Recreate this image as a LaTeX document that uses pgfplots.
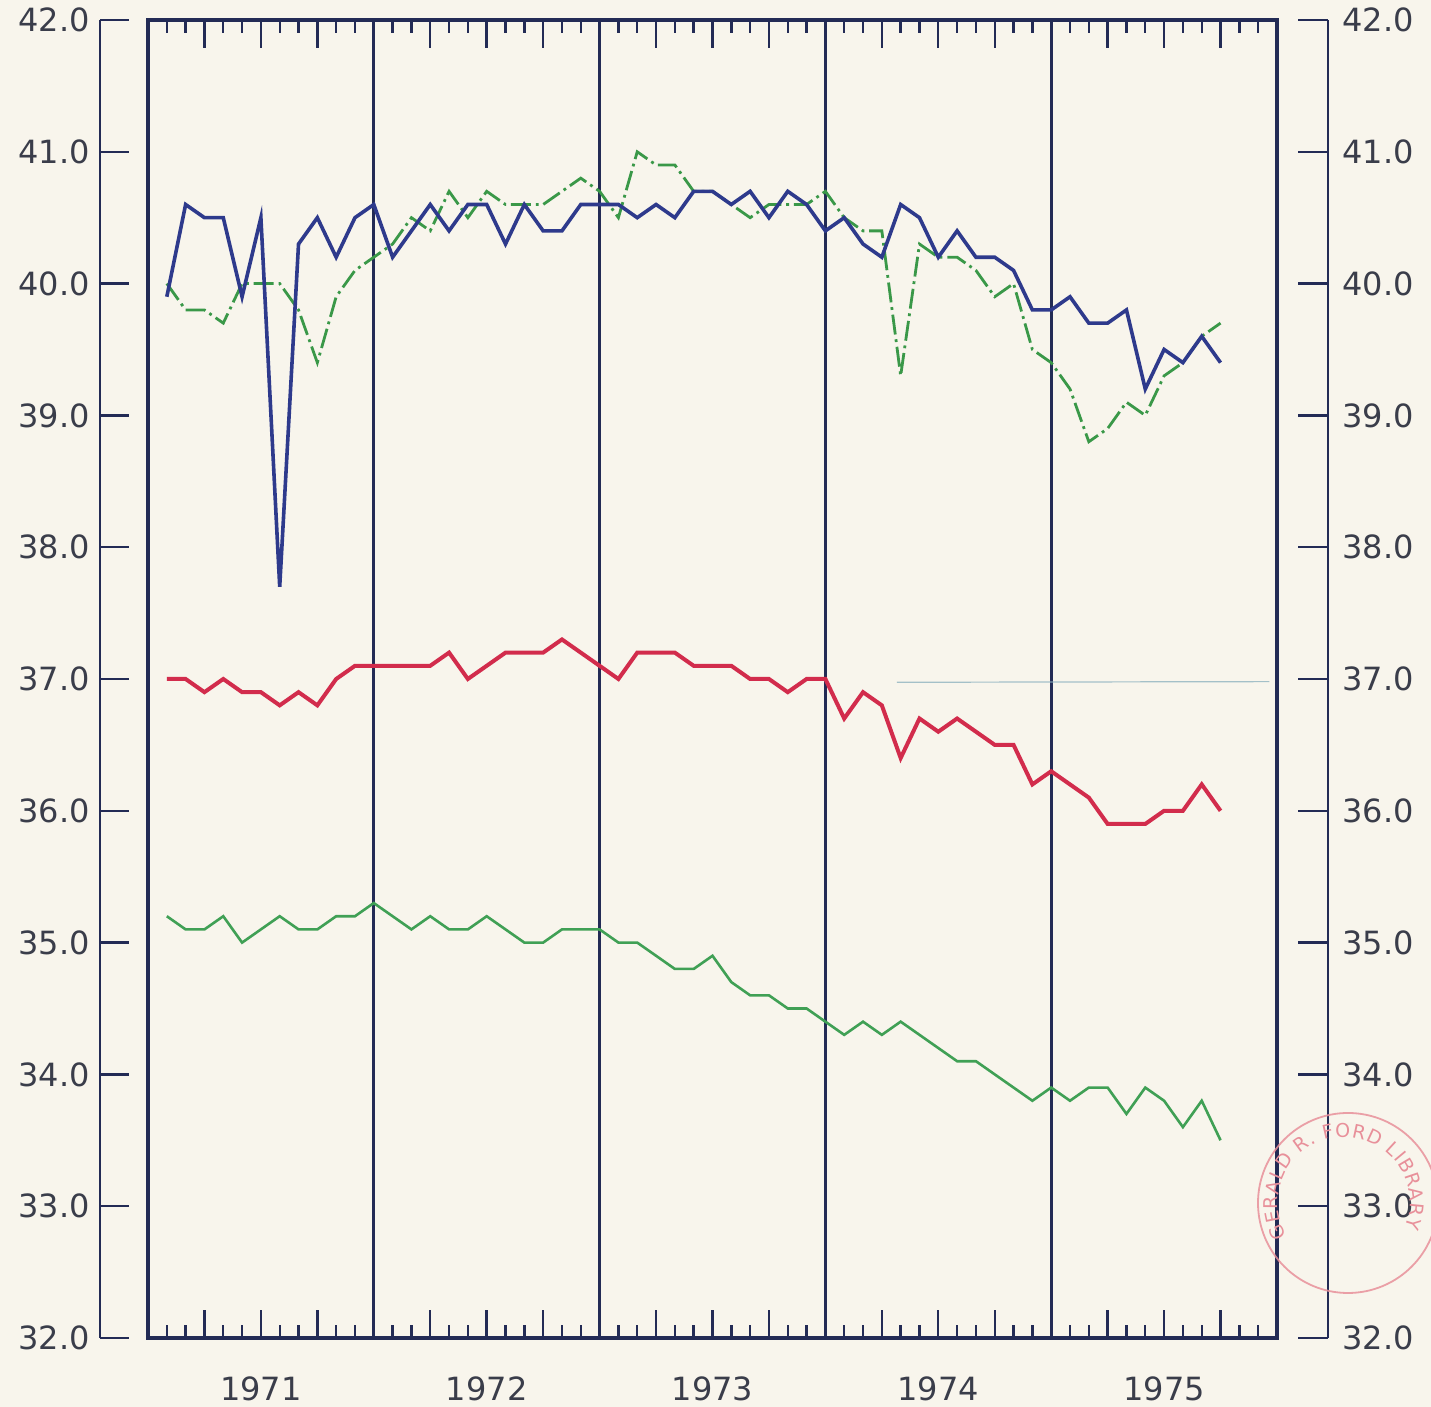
\documentclass[border=0pt]{standalone}
\usepackage{fontspec}
\setmainfont{DejaVu Sans}
\usepackage{pgfplots}
\usepackage{pgfplotstable}
\pgfplotsset{compat=1.18}
\usetikzlibrary{decorations.text}
\definecolor{bgc}{HTML}{F8F5EC}
\definecolor{axc}{HTML}{232B55}
\definecolor{txc}{HTML}{3A3D4A}
\definecolor{bluec}{HTML}{2E3A8C}
\definecolor{redc}{HTML}{D22C4C}
\definecolor{greenc}{HTML}{40A055}
\definecolor{dashc}{HTML}{3A9848}
\definecolor{faintc}{HTML}{8FB3C0}
\definecolor{stampc}{HTML}{E8909A}
\pgfplotstableread{
m blue dash red green
1 39.9 40.0 37.0 35.2
2 40.6 39.8 37.0 35.1
3 40.5 39.8 36.9 35.1
4 40.5 39.7 37.0 35.2
5 39.9 40.0 36.9 35.0
6 40.5 40.0 36.9 35.1
7 37.7 40.0 36.8 35.2
8 40.3 39.8 36.9 35.1
9 40.5 39.4 36.8 35.1
10 40.2 39.9 37.0 35.2
11 40.5 40.1 37.1 35.2
12 40.6 40.2 37.1 35.3
13 40.2 40.3 37.1 35.2
14 40.4 40.5 37.1 35.1
15 40.6 40.4 37.1 35.2
16 40.4 40.7 37.2 35.1
17 40.6 40.5 37.0 35.1
18 40.6 40.7 37.1 35.2
19 40.3 40.6 37.2 35.1
20 40.6 40.6 37.2 35.0
21 40.4 40.6 37.2 35.0
22 40.4 40.7 37.3 35.1
23 40.6 40.8 37.2 35.1
24 40.6 40.7 37.1 35.1
25 40.6 40.5 37.0 35.0
26 40.5 41.0 37.2 35.0
27 40.6 40.9 37.2 34.9
28 40.5 40.9 37.2 34.8
29 40.7 40.7 37.1 34.8
30 40.7 40.7 37.1 34.9
31 40.6 40.6 37.1 34.7
32 40.7 40.5 37.0 34.6
33 40.5 40.6 37.0 34.6
34 40.7 40.6 36.9 34.5
35 40.6 40.6 37.0 34.5
36 40.4 40.7 37.0 34.4
37 40.5 40.5 36.7 34.3
38 40.3 40.4 36.9 34.4
39 40.2 40.4 36.8 34.3
40 40.6 39.3 36.4 34.4
41 40.5 40.3 36.7 34.3
42 40.2 40.2 36.6 34.2
43 40.4 40.2 36.7 34.1
44 40.2 40.1 36.6 34.1
45 40.2 39.9 36.5 34.0
46 40.1 40.0 36.5 33.9
47 39.8 39.5 36.2 33.8
48 39.8 39.4 36.3 33.9
49 39.9 39.2 36.2 33.8
50 39.7 38.8 36.1 33.9
51 39.7 38.9 35.9 33.9
52 39.8 39.1 35.9 33.7
53 39.2 39.0 35.9 33.9
54 39.5 39.3 36.0 33.8
55 39.4 39.4 36.0 33.6
56 39.6 39.6 36.2 33.8
57 39.4 39.7 36.0 33.5
}\datatable
\begin{document}
\begin{tikzpicture}
\fill[bgc] (-74pt,-34.5pt) rectangle (641.5pt,669pt);
\pgfplotsset{
  every axis/.append style={
    scale only axis, anchor=south west, height=659pt,
    ymin=32, ymax=42,
    tick label style={font=\fontsize{16}{18}\selectfont, text=txc},
    /pgf/number format/assume math mode=true,
  }
}
% left scale
\begin{axis}[
  at={(-24pt,0pt)}, width=14.5pt, xmin=0, xmax=1,
  axis x line=none, axis y line*=left,
  y axis line style={line width=1.4pt, draw=axc, -},
  ytick={32,33,...,42},
  yticklabels={32.0,33.0,34.0,35.0,36.0,37.0,38.0,39.0,40.0,41.0,42.0},
  tick align=inside, major tick length=14.5pt,
  every tick/.style={draw=axc, line width=1.2pt},
  yticklabel style={inner sep=2pt, xshift=-3pt},
]
\end{axis}
% right scale
\begin{axis}[
  at={(575.5pt,0pt)}, width=14.5pt, xmin=0, xmax=1,
  axis x line=none, axis y line*=right,
  y axis line style={line width=1.4pt, draw=axc, -},
  ytick={32,33,...,42},
  yticklabels={32.0,33.0,34.0,35.0,36.0,37.0,38.0,39.0,40.0,41.0,42.0},
  tick align=inside, major tick length=15pt,
  every tick/.style={draw=axc, line width=1.2pt},
  yticklabel style={inner sep=2pt, xshift=5pt},
]
\end{axis}
% main plot
\begin{axis}[
  at={(0pt,0pt)}, width=564.5pt,
  xmin=0, xmax=60,
  ytick=\empty,
  axis line style={line width=1.6pt, draw=axc},
  xtick={12,24,36,48,60},
  xticklabels={1971,1972,1973,1974,1975},
  xticklabel style={xshift=-56.45pt, yshift=-16pt},
  major tick length=0pt,
  xmajorgrids,
  major grid style={line width=1.6pt, draw=axc},
  minor xtick={1,2,4,5,7,8,10,11,13,14,16,17,19,20,22,23,25,26,28,29,31,32,34,35,37,38,40,41,43,44,46,47,49,50,52,53,55,56,58,59},
  minor tick length=6.5pt,
  extra x ticks={3,6,9,15,18,21,27,30,33,39,42,45,51,54,57},
  extra x tick labels={},
  extra x tick style={grid=none, major tick length=14pt},
  every tick/.style={draw=axc, line width=1.2pt},
  tick align=inside,
  clip=false,
]
\addplot[faintc, line width=0.6pt, opacity=0.8] coordinates {(39.8,36.975) (59.6,36.98)};
\addplot[dashc, line width=1.4pt, dash pattern=on 10pt off 2.4pt on 1.4pt off 2.4pt] table[x=m, y=dash] {\datatable};
\addplot[bluec, line width=1.8pt] table[x=m, y=blue] {\datatable};
\addplot[redc, line width=2pt] table[x=m, y=red] {\datatable};
\addplot[greenc, line width=1.3pt] table[x=m, y=green] {\datatable};
\end{axis}
% library stamp
\draw[stampc, line width=0.9pt, opacity=0.85] (600pt,67.5pt) circle[radius=45pt];
\path[decorate, decoration={text along path, text align=fit to path,
  text={|\fontsize{9.5}{11}\selectfont\color{stampc}|GERALD R. FORD LIBRARY}}]
  (598pt,67.5pt) ++(210:33pt) arc[start angle=210, end angle=-22, radius=33pt];
\pgfresetboundingbox
\path[use as bounding box] (-74pt,-34.5pt) rectangle (641.5pt,669pt);
\end{tikzpicture}
\end{document}
